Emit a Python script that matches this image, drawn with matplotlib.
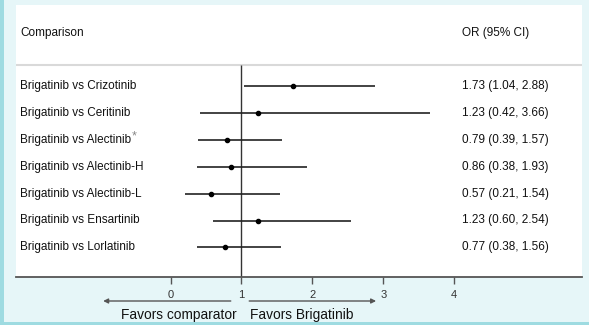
import matplotlib

matplotlib.use("Agg")
import matplotlib.patches as mpatches
import matplotlib.pyplot as plt
from matplotlib.transforms import blended_transform_factory

plt.rcParams["font.family"] = ["Liberation Sans", "DejaVu Sans"]

comparisons = [
    "Brigatinib vs Crizotinib",
    "Brigatinib vs Ceritinib",
    "Brigatinib vs Alectinib",
    "Brigatinib vs Alectinib-H",
    "Brigatinib vs Alectinib-L",
    "Brigatinib vs Ensartinib",
    "Brigatinib vs Lorlatinib",
]
odds_ratio = [1.73, 1.23, 0.79, 0.86, 0.57, 1.23, 0.77]
ci_low = [1.04, 0.42, 0.39, 0.38, 0.21, 0.60, 0.38]
ci_high = [2.88, 3.66, 1.57, 1.93, 1.54, 2.54, 1.56]
starred = ["Brigatinib vs Alectinib"]
x_ticks = [0, 1, 2, 3, 4]

W, H = 589, 325
BG = "#e6f6f8"
EDGE = "#9edbe1"
FS = 8.5

fig = plt.figure(figsize=(W / 100, H / 100), dpi=100, facecolor=BG)

# white panel = axes, pixel box x 16..582, y 5..277
left_px, right_px, top_px, bot_px = 16, 582, 5, 277
ax = fig.add_axes([left_px / W, 1 - bot_px / H, (right_px - left_px) / W, (bot_px - top_px) / H])
ax.set_facecolor("white")

# x scale: 0 at 170.5 px, 1 at 241.5 px
px_per = 70.9
x0_px = 170.5
ax.set_xlim(-(x0_px - left_px) / px_per, (right_px - x0_px) / px_per)

# y: row i at 86.5 + 26.8*i px
row0, step = 86.5, 26.8
ax.set_ylim((bot_px - row0) / step, (top_px - row0) / step)

for s in ["top", "right", "left"]:
    ax.spines[s].set_visible(False)
ax.spines["bottom"].set_color("#555555")
ax.spines["bottom"].set_linewidth(1.3)
ax.set_yticks([])
ax.set_xticks(x_ticks)
ax.set_xticklabels([str(t) for t in x_ticks])
ax.tick_params(axis="x", length=5, width=1, color="#555555", labelcolor="#333333",
               labelsize=8, pad=4)

blend = blended_transform_factory(ax.transAxes, ax.transData)
header_y = (33 - row0) / step
line_y = (65.5 - row0) / step

ax.text(0.007, header_y, "Comparison", transform=blend, va="center", fontsize=FS, color="#111111")
ax.text(0.788, header_y, "OR (95% CI)", transform=blend, va="center", fontsize=FS, color="#111111")
ax.axhline(line_y, color="#d9d9d9", linewidth=1.5)
ax.vlines(1, line_y, ax.get_ylim()[0], color="#333333", linewidth=1)

for i, name in enumerate(comparisons):
    t = ax.text(0.007, i, name, transform=blend, va="center", fontsize=FS, color="#111111")
    if name in starred:
        ax.annotate("*", xy=(1, 0.8), xycoords=t, xytext=(0.8, 0), textcoords="offset points",
                    va="center", ha="left", fontsize=9, color="#888888")
    ax.hlines(i, ci_low[i], ci_high[i], color="#222222", linewidth=1.2)
    ax.plot(odds_ratio[i], i, "o", color="black", markersize=3)
    ax.text(0.788, i, f"{odds_ratio[i]:.2f} ({ci_low[i]:.2f}, {ci_high[i]:.2f})",
            transform=blend, va="center", fontsize=FS, color="#111111")

# arrows and favors labels below the axis
arrow_blend = blended_transform_factory(ax.transData, fig.transFigure)
ay = 1 - 301 / H
for start, end in [(0.85, -0.95), (1.11, 2.9)]:
    ax.annotate("", xy=(end, ay), xytext=(start, ay), xycoords=arrow_blend, textcoords=arrow_blend,
                arrowprops=dict(arrowstyle="-|>", color="#555555", lw=1, mutation_scale=7,
                                shrinkA=0, shrinkB=0),
                annotation_clip=False)
fy = 1 - 315 / H
ax.text(0.93, fy, "Favors comparator", transform=arrow_blend, ha="right", va="center",
        fontsize=9.9, color="#111111")
ax.text(1.12, fy, "Favors Brigatinib", transform=arrow_blend, ha="left", va="center",
        fontsize=9.9, color="#111111")

# teal frame edges
fig.patches.append(mpatches.Rectangle((0, 0), 4 / W, 1, transform=fig.transFigure,
                                      facecolor=EDGE, edgecolor="none"))
fig.patches.append(mpatches.Rectangle((0, 0), 1, 3 / H, transform=fig.transFigure,
                                      facecolor=EDGE, edgecolor="none"))

fig.savefig("out.png", dpi=100, facecolor=BG)
